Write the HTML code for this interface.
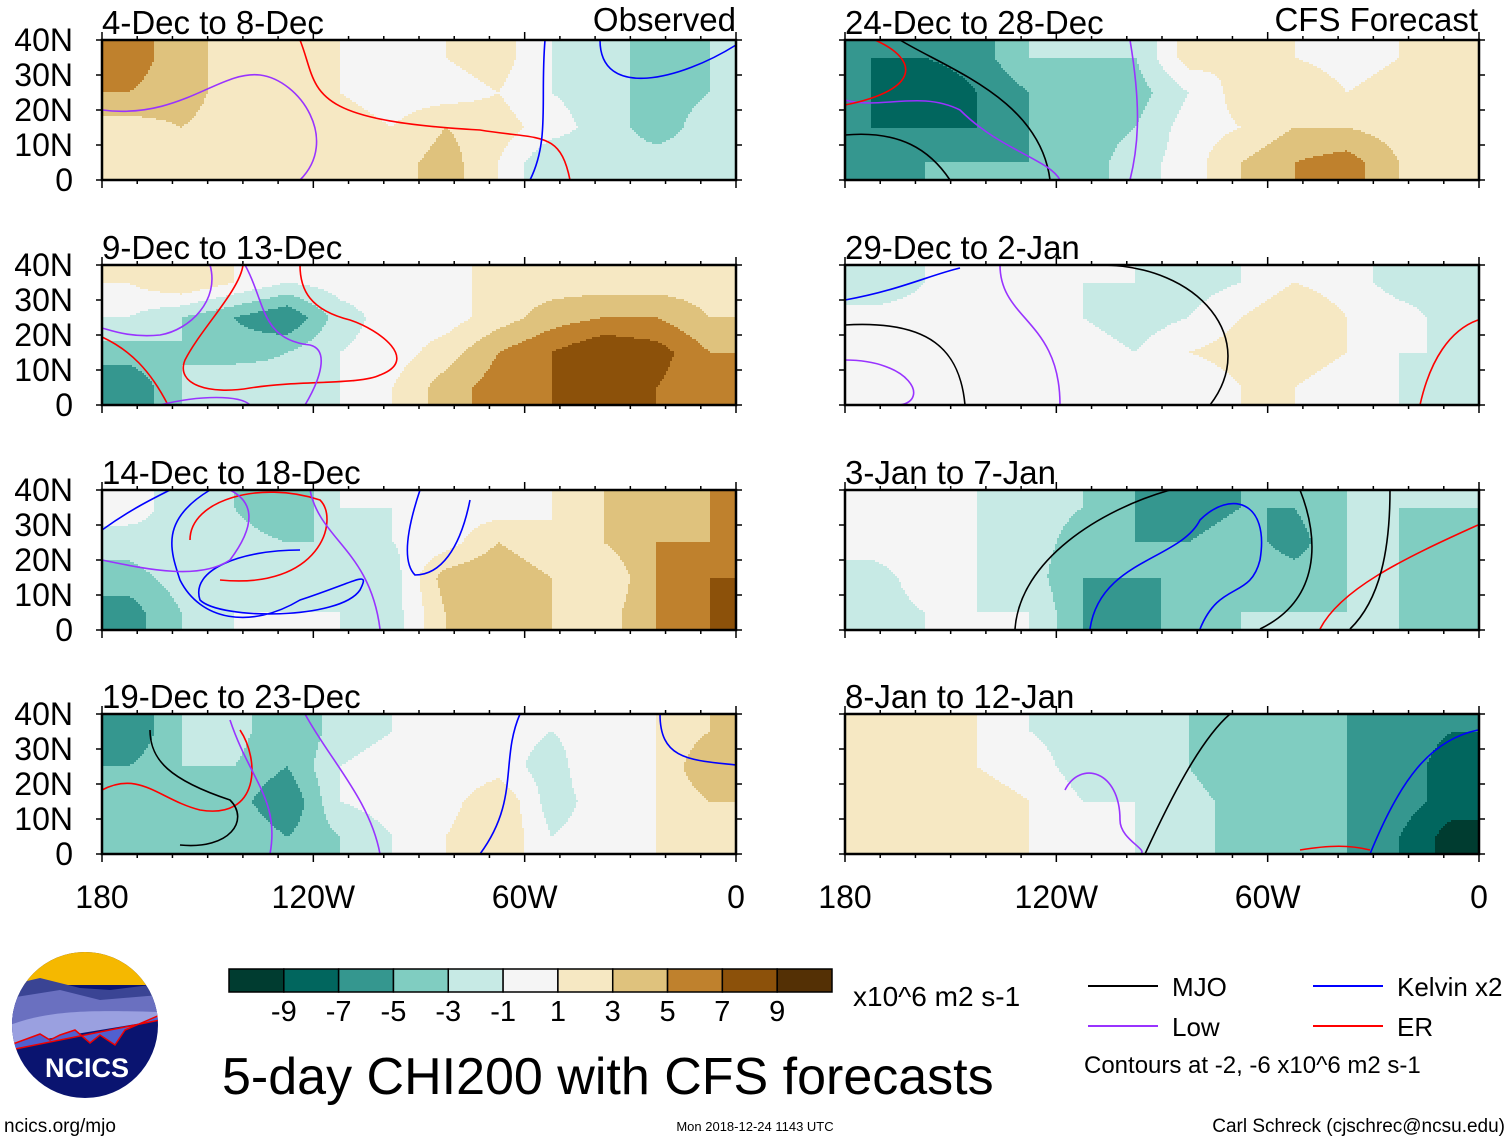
<!DOCTYPE html>
<html><head><meta charset="utf-8"><style>
body{margin:0;background:#fff;}
svg{display:block;font-family:"Liberation Sans",sans-serif;}
</style></head><body>
<svg id="chart" width="1510" height="1141" viewBox="0 0 1510 1141">
<defs></defs>
<g id="panels"></g>
<g id="bottom"></g>
</svg>
<script>
const levelBounds=[-9,-7,-5,-3,-1,1,3,5,7,9];
const levelColors=["#003c30","#01665e","#35978f","#80cdc1","#c7eae5","#f5f5f5","#f6e8c3","#dfc27d","#bf812d","#8c510a","#543005"];
const colorbarLabels=["-9","-7","-5","-3","-1","1","3","5","7","9"];
const latLabels=["40N","30N","20N","10N","0"];
const lonLabels=["180","120W","60W","0"];
const panelTitles=["4-Dec to 8-Dec","9-Dec to 13-Dec","14-Dec to 18-Dec","19-Dec to 23-Dec","24-Dec to 28-Dec","29-Dec to 2-Jan","3-Jan to 7-Jan","8-Jan to 12-Jan"];
const field0=[[6,4,2,2,1,0,1,2,-1,-2,-4,-3],[5,4,2,2,1,0,0,1,-1,-2,-4,-3],[2,3,2,2,2,1,3,2,0,-2,-4,-2],[1,3,2,2,2,2,4,1,-3,-2,-2,-2]];
const field1=[[1,3,1,-1,0,0,0,2,2,2,2,2],[-1,-3,-5,-7,-2,0,0,2,4,5,5,3],[-4,-3,-4,-3,-1,0,2,5,7,9,8,5],[-7,-3,-1,-2,-1,1,4,6,7,8,7,5]];
const field2=[[0,-2,-3,-5,-1,-1,0,0,1,3,3,5],[-2,-1,-2,-3,-3,-1,0,3,1,3,5,5],[-4,-2,-1,-3,-3,-2,4,5,3,1,5,7],[-6,-3,-1,-1,-1,-2,3,5,3,2,5,7]];
const field3=[[-7,-3,-2,-5,-2,-1,-1,0,-1,0,1,3],[-5,-3,-3,-5,-1,0,-1,0,-2,1,1,5],[-5,-3,-4,-7,-1,0,0,3,-2,0,1,3],[-5,-4,-3,-5,-3,-1,1,3,-1,0,1,2]];
const field4=[[-7,-7,-6,-3,-3,-3,2,1,1,0,1,1],[-7,-9,-7,-5,-3,-4,-1,2,3,1,2,1],[-7,-7,-7,-5,-4,-3,0,1,3,3,2,2],[-7,-5,-5,-5,-4,-2,0,3,5,6,3,2]];
const field5=[[-3,-1,0,-1,-1,-1,-2,-1,1,0,-2,-2],[0,0,1,0,-1,-2,-1,1,3,1,0,-2],[0,1,0,-1,0,-1,1,2,2,1,-1,-1],[0,0,-1,0,0,-1,-1,1,1,0,-1,-2]];
const field6=[[0,0,-1,-2,-3,-5,-6,-5,-5,-3,-3,-3],[0,0,-1,-2,-4,-5,-5,-4,-6,-3,-3,-4],[-2,0,-1,-2,-5,-5,-5,-3,-4,-3,-3,-4],[-2,-1,-1,-1,-5,-6,-4,-3,-3,-3,-3,-4]];
const field7=[[1,1,1,-1,-2,-3,-3,-4,-5,-5,-6,-7],[2,1,1,0,-2,-2,-3,-5,-5,-5,-6,-8],[2,1,2,1,-1,-1,-2,-4,-5,-5,-6,-8],[2,2,2,1,-1,-1,-2,-4,-4,-5,-7,-10]];
const fields=[field0,field1,field2,field3,field4,field5,field6,field7];

const NS="http://www.w3.org/2000/svg";
function mk(tag,attrs,parent){const e=document.createElementNS(NS,tag);for(const k in attrs)e.setAttribute(k,attrs[k]);parent.appendChild(e);return e;}
function levelOf(v){let i=0;while(i<levelBounds.length&&v>=levelBounds[i])i++;return i;}
const PW=634,PH=140;
const panelX=[102,845];
const panelY=[40,265,490,714];
function xScale(px,lonW){return px+(180-lonW)/180*PW;}
function yScale(py,lat){return py+(40-lat)/40*PH;}
function sample(field,fx,fy){
  const nr=field.length,nc=field[0].length;
  let u=fx*nc-0.5,v=fy*nr-0.5;
  u=Math.max(0,Math.min(nc-1,u));v=Math.max(0,Math.min(nr-1,v));
  const i0=Math.min(nc-2,Math.floor(u)),j0=Math.min(nr-2,Math.floor(v)),i1=i0+1,j1=j0+1;
  const a=u-i0,b=v-j0;
  return (field[j0][i0]*(1-a)+field[j0][i1]*a)*(1-b)+(field[j1][i0]*(1-a)+field[j1][i1]*a)*b;
}
const gp=document.getElementById('panels');
const contourPaths=[
 [["M300,180 C340,140 300,80 260,75 C220,70 180,120 102,110","#9933ff"],["M300,40 C320,90 300,120 480,130 C540,140 560,130 570,180","#ff0000"],["M545,40 C540,100 550,140 530,180","#0000ff"],["M600,40 C600,100 680,80 736,45","#0000ff"]],
 [["M102,337 C130,350 150,370 168,405","#ff0000"],["M243,265 C240,290 200,330 185,360 C175,385 210,395 250,388 C300,380 360,385 380,375 C420,360 380,330 350,320 C310,310 300,290 300,265","#ff0000"],["M210,265 C220,300 190,330 160,335 C130,338 110,330 102,328","#9933ff"],["M245,265 C265,300 260,340 310,345 C330,350 320,380 305,405","#9933ff"],["M160,405 C200,395 240,395 250,405","#9933ff"]],
 [["M102,530 C130,510 150,500 170,490","#0000ff"],["M210,490 C160,520 170,550 180,580 C200,620 250,630 300,600 C360,580 370,570 360,590 C340,620 220,620 200,600 C190,570 240,550 300,550","#0000ff"],["M190,540 C190,500 260,480 320,500 C340,520 320,590 220,580","#ff0000"],["M102,560 C150,570 200,580 230,560 C260,520 250,500 230,490","#9933ff"],["M310,490 C320,540 370,550 380,629","#9933ff"],["M420,490 C410,520 400,560 415,575 C440,575 460,550 470,500","#0000ff"]],
 [["M102,790 C140,770 160,800 200,810 C260,820 260,760 240,730","#ff0000"],["M150,730 C150,760 170,780 230,800 C250,820 230,850 180,845","#000000"],["M230,720 C250,780 280,800 270,854","#9933ff"],["M520,714 C500,760 520,800 480,854","#0000ff"],["M660,714 C660,760 690,760 736,765","#0000ff"],["M305,714 C330,760 370,800 380,854","#9933ff"]],
 [["M900,40 C950,70 1040,100 1050,180","#000000"],["M845,100 C880,110 920,90 960,110 C1000,150 1050,160 1060,180","#9933ff"],["M845,135 C900,130 930,150 950,180","#000000"],["M1130,40 C1140,100 1140,140 1130,180","#9933ff"],["M875,40 C920,60 920,90 845,105","#ff0000"]],
 [["M845,300 C900,290 930,275 960,268","#0000ff"],["M845,325 C930,320 960,350 965,405","#000000"],["M1100,265 C1200,265 1260,340 1210,405","#000000"],["M1420,405 C1430,360 1450,330 1478,320","#ff0000"],["M1000,265 C1000,320 1060,320 1060,405","#9933ff"],["M845,360 C910,360 930,400 900,405","#9933ff"]],
 [["M1015,629 C1020,560 1100,510 1170,490","#000000"],["M1090,629 C1100,560 1180,560 1200,520 C1230,490 1270,500 1260,560 C1250,600 1220,580 1200,629","#0000ff"],["M1320,629 C1340,590 1400,560 1478,525","#ff0000"],["M1300,490 C1320,540 1320,600 1260,629","#000000"],["M1390,490 C1390,550 1380,600 1350,629","#000000"]],
 [["M1145,854 C1170,800 1200,740 1230,714","#000000"],["M1370,854 C1400,780 1430,740 1478,730","#0000ff"],["M1065,790 C1080,760 1120,770 1120,820 C1120,840 1150,850 1140,854","#9933ff"],["M1300,850 C1330,845 1350,845 1370,850","#ff0000"]]
];
const STEP=2;
fields.forEach((field,p)=>{
  const col=p<4?0:1,row=p%4;
  const px=panelX[col],py=panelY[row];
  const g=mk('g',{},gp);
  
  
  const fg=mk('g',{'shape-rendering':'crispEdges'},g);
  function emit(x0,x1,y,lev){
    const rc=mk('rect',{x:px+x0,y:py+y,width:x1-x0+0.5,height:Math.min(STEP,PH-y)+0.5,fill:levelColors[lev]},fg);
    
    
  }
  for(let y=0;y<PH;y+=STEP){
    const fy=(y+STEP/2)/PH;
    let runStart=0,runLev=levelOf(sample(field,STEP/2/PW,fy));
    for(let x=STEP;x<PW;x+=STEP){
      const lev=levelOf(sample(field,(x+STEP/2)/PW,fy));
      if(lev!==runLev){emit(runStart,x,y,runLev);runLev=lev;runStart=x;}
    }
    emit(runStart,PW,y,runLev);
  }
  contourPaths[p].forEach(([d,c])=>{const pa=mk('path',{d:d,fill:'none',stroke:c,'stroke-width':1.6},g);
    
    });
  const fr=mk('rect',{x:px,y:py,width:PW,height:PH,fill:'none',stroke:'#000','stroke-width':2.5},g);
  
  
  for(let lon=180;lon>=0;lon-=10){const x=xScale(px,lon);const L=(lon%60===0)?8:4;
    mk('line',{x1:x,x2:x,y1:py,y2:py-L,stroke:'#000','stroke-width':1.5},g);
    mk('line',{x1:x,x2:x,y1:py+PH,y2:py+PH+L,stroke:'#000','stroke-width':1.5},g);}
  for(let lat=0;lat<=40;lat+=10){const y=yScale(py,lat);
    mk('line',{x1:px,x2:px-6,y1:y,y2:y,stroke:'#000','stroke-width':1.5},g);
    mk('line',{x1:px+PW,x2:px+PW+6,y1:y,y2:y,stroke:'#000','stroke-width':1.5},g);}
  const t=mk('text',{x:px,y:py-6,'font-size':33},g);t.textContent=panelTitles[p];
  
  
  if(col===0){latLabels.forEach((lb,i)=>{const y=yScale(py,40-i*10);
    const tt=mk('text',{x:73,y:y+11,'font-size':32,'text-anchor':'end'},g);tt.textContent=lb;
    
    });}
  if(row===3){lonLabels.forEach((lb,i)=>{const x=xScale(px,180-i*60);
    const tt=mk('text',{x:x,y:908,'font-size':32,'text-anchor':'middle'},g);tt.textContent=lb;
    
    });}
});
const bt=document.getElementById('bottom');
function txt(x,y,s,size,anchor,name){const t=mk('text',{x:x,y:y,'font-size':size,'text-anchor':anchor||'start'},bt);t.textContent=s;
  return t;}
txt(736,31,'Observed',33,'end','observed-label');
txt(1478,31,'CFS Forecast',33,'end','cfs-forecast-label');
const cbX=229,cbY=969,cbW=603,cbH=23,bw=cbW/levelColors.length;
levelColors.forEach((c,i)=>{const r=mk('rect',{x:cbX+i*bw,y:cbY,width:bw,height:cbH,fill:c,stroke:'#000','stroke-width':1.5},bt);
  });
colorbarLabels.forEach((s,i)=>txt(cbX+(i+1)*bw,1021,s,29,'middle','colorbar-label'));
txt(853,1006,'x10^6 m2 s-1',28,'start','units-label');
txt(222,1094,'5-day CHI200 with CFS forecasts',52,'start','chart-title');
[[1088,986,'#000','MJO'],[1313,986,'#0000ff','Kelvin x2'],[1088,1026,'#9933ff','Low'],[1313,1026,'#ff0000','ER']].forEach(([x,y,c,s])=>{
  const l=mk('line',{x1:x,x2:x+70,y1:y,y2:y,stroke:c,'stroke-width':2},bt);
  
  txt(x+84,y+10,s,26,'start','legend-entry');});
txt(1084,1073,'Contours at -2, -6 x10^6 m2 s-1',24,'start','contour-note');
txt(4,1132,'ncics.org/mjo',19,'start','url-label');
txt(755,1131,'Mon 2018-12-24 1143 UTC',13,'middle','timestamp');
txt(1505,1132,'Carl Schreck (cjschrec@ncsu.edu)',19,'end','author-label');
const defs=document.querySelector('defs');
const lg=mk('g',{},bt);
const lcp=mk('clipPath',{id:'logoclip'},defs);mk('circle',{cx:85,cy:1025,r:73},lcp);
const li=mk('g',{'clip-path':'url(#logoclip)'},lg);
mk('rect',{x:10,y:950,width:150,height:150,fill:'#0a1470'},li);
mk('rect',{x:10,y:950,width:150,height:35,fill:'#f5b800'},li);
mk('path',{d:'M10,985 L40,978 L80,988 L110,990 L150,985 L160,985 L160,1010 L10,1030Z',fill:'#3a4494'},li);
mk('path',{d:'M10,998 L60,990 L100,1000 L160,995 L160,1015 L10,1035Z',fill:'#6a70c0'},li);
mk('path',{d:'M10,1025 C50,1010 90,1010 160,1012 L160,1020 L10,1045Z',fill:'#9aa0e0'},li);
mk('path',{d:'M10,1045 L40,1034 L50,1040 L60,1035 L75,1030 L90,1043 L100,1035 L115,1045 L125,1030 L160,1015 L160,1020 L10,1050Z',fill:'#5060d0',stroke:'#e00','stroke-width':1.5},li);
const lt=mk('text',{x:87,y:1077,'font-size':27,'font-weight':'bold',fill:'#fff','text-anchor':'middle'},lg);lt.textContent='NCICS';

</script>
</body></html>
